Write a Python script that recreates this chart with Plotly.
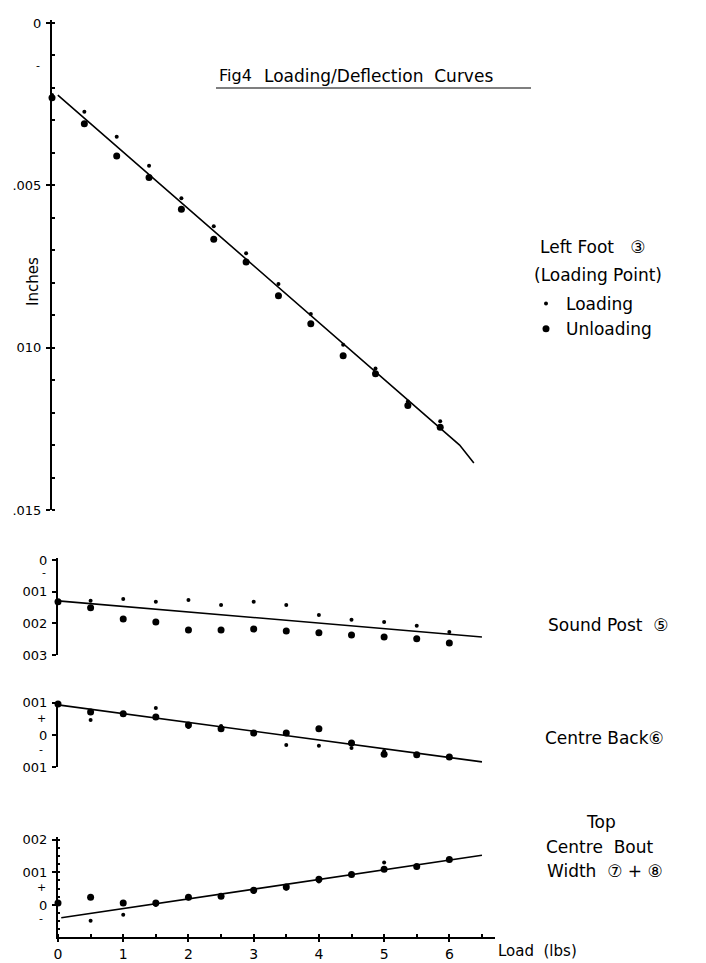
import plotly.graph_objects as go

W, H = 706, 963


def px_x(p):
    return p / W


def px_y(p):
    return 1 - p / H


# ---------------- data (inches, load in lbs) ----------------
loads = [0, 0.5, 1, 1.5, 2, 2.5, 3, 3.5, 4, 4.5, 5, 5.5, 6]

# Left Foot (3) - loading point
foot_loading = [0.00222, 0.00273, 0.00350, 0.00440, 0.00540, 0.00626, 0.00709,
                0.00804, 0.00896, 0.00991, 0.01064, 0.01166, 0.01227]
foot_unloading = [0.00230, 0.00310, 0.00410, 0.00476, 0.00574, 0.00666, 0.00736,
                  0.00840, 0.00926, 0.01025, 0.01080, 0.01178, 0.01245]
foot_fit_x = [0.09, 6.30, 6.52]
foot_fit_y = [0.00222, 0.01300, 0.01355]

# Sound Post (5)
post_loading = [0.00132, 0.00129, 0.00123, 0.00132, 0.00126, 0.00142, 0.00132,
                0.00142, 0.00174, 0.00189, 0.00196, 0.00208, 0.00227]
post_unloading = [0.00132, 0.00151, 0.00186, 0.00196, 0.00221, 0.00221, 0.00218,
                  0.00224, 0.00230, 0.00237, 0.00243, 0.00249, 0.00262]
post_fit_x = [0.0, 6.5]
post_fit_y = [0.00129, 0.00243]

# Centre Back (6)
back_loading = [0.00097, 0.00047, 0.00066, 0.00084, 0.00025, 0.00028, 0.00003,
                -0.00031, -0.00034, -0.00041, -0.00050, -0.00060, -0.00066]
back_unloading = [0.00097, 0.00072, 0.00066, 0.00056, 0.00031, 0.00019, 0.00006,
                  0.00006, 0.00019, -0.00025, -0.00060, -0.00062, -0.00069]
back_fit_x = [0.0, 6.5]
back_fit_y = [0.00094, -0.00084]

# Top Centre Bout Width (7) + (8)
bout_loading = [0.00006, -0.00048, -0.00030, 0.00000, 0.00020, 0.00025, 0.00040,
                0.00050, 0.00072, 0.00090, 0.00130, 0.00115, 0.00136]
bout_unloading = [0.00006, 0.00024, 0.00006, 0.00006, 0.00024, 0.00027, 0.00045,
                  0.00055, 0.00079, 0.00093, 0.00109, 0.00118, 0.00139]
bout_fit_x = [0.05, 6.5]
bout_fit_y = [-0.00039, 0.00152]

x_ticks = [0, 1, 2, 3, 4, 5, 6]
x_ticktext = ["0", "1", "2", "3", "4", "5", "6"]

FONT = "DejaVu Sans"
BLACK = "#000000"
SMALL = 4
BIG = 7

fig = go.Figure()


def add_panel(xa, ya, loading, unloading, fit_x, fit_y, legend=False):
    fig.add_trace(go.Scatter(x=fit_x, y=fit_y, mode="lines", xaxis=xa, yaxis=ya,
                             line=dict(color=BLACK, width=1.6), showlegend=False,
                             cliponaxis=False, hoverinfo="skip"))
    fig.add_trace(go.Scatter(x=loads, y=loading, mode="markers", xaxis=xa, yaxis=ya,
                             name="Loading", showlegend=legend, cliponaxis=False,
                             marker=dict(color=BLACK, size=SMALL)))
    fig.add_trace(go.Scatter(x=loads, y=unloading, mode="markers", xaxis=xa, yaxis=ya,
                             name="Unloading", showlegend=legend, cliponaxis=False,
                             marker=dict(color=BLACK, size=BIG)))


add_panel("x2", "y", foot_loading, foot_unloading, foot_fit_x, foot_fit_y, legend=True)
add_panel("x", "y2", post_loading, post_unloading, post_fit_x, post_fit_y)
add_panel("x", "y3", back_loading, back_unloading, back_fit_x, back_fit_y)
add_panel("x", "y4", bout_loading, bout_unloading, bout_fit_x, bout_fit_y)

tickfont = dict(family=FONT, size=13, color=BLACK)
common_y = dict(showgrid=False, zeroline=False, showline=True, linecolor=BLACK,
                linewidth=2, ticks="outside", ticklen=4, tickwidth=1.5,
                tickcolor=BLACK, tickfont=tickfont, automargin=False,
                ticklabelstandoff=2)

fig.update_layout(
    width=W, height=H,
    margin=dict(l=0, r=0, t=0, b=0),
    paper_bgcolor="white", plot_bgcolor="white",
    font=dict(family=FONT, color=BLACK),
    xaxis=dict(domain=[px_x(58), px_x(495)], range=[0, 6.7], anchor="y4",
               showgrid=False, zeroline=False, showline=True, linecolor=BLACK,
               linewidth=2, ticks="outside", ticklen=3, tickwidth=1.5,
               tickcolor=BLACK, tickvals=x_ticks, ticktext=x_ticktext,
               tickfont=dict(family=FONT, size=14, color=BLACK), automargin=False,
               ticklabelstandoff=0,
               minor=dict(dtick=0.5, ticks="inside", ticklen=3, tickcolor=BLACK)),
    xaxis2=dict(domain=[px_x(52), px_x(485.5)], range=[0, 6.7], anchor="y",
                visible=False),
    yaxis=dict(domain=[px_y(510), px_y(20)], range=[0.015, -0.0000924],
               anchor="x2", tickvals=[0, 0.005, 0.010, 0.015],
               ticktext=["0", ".005", "010", ".015"],
               minor=dict(dtick=0.001, tick0=0, ticks="inside", ticklen=3,
                          tickcolor=BLACK), **common_y),
    yaxis2=dict(domain=[px_y(655), px_y(558)], range=[0.0030, -0.000063],
                anchor="x", tickvals=[0, 0.001, 0.002, 0.003],
                ticktext=["0", "001", "002", "003"], **common_y),
    yaxis3=dict(domain=[px_y(767), px_y(701)], range=[-0.001, 0.00106],
                anchor="x", tickvals=[0.001, 0, -0.001],
                ticktext=["001", "0", "001"], **common_y),
    yaxis4=dict(domain=[px_y(937), px_y(837)], range=[-0.00098, 0.00208],
                anchor="x", tickvals=[0.002, 0.001, 0, -0.001],
                ticktext=["002", "001", "0", "001"],
                minor=dict(dtick=0.00025, ticks="inside", ticklen=2,
                           tickcolor=BLACK), **common_y),
    legend=dict(x=px_x(526), y=px_y(286), xanchor="left", yanchor="top",
                bgcolor="rgba(0,0,0,0)", borderwidth=0,
                font=dict(family=FONT, size=17, color=BLACK),
                tracegroupgap=0, itemsizing="trace"),
    showlegend=True,
)

ann_font = dict(family=FONT, size=17, color=BLACK)
small_font = dict(family=FONT, size=11, color=BLACK)
annotations = [
    # title
    dict(text="Fig4", x=px_x(217), y=px_y(76), xanchor="left", yanchor="middle",
         font=dict(family=FONT, size=16, color=BLACK)),
    dict(text="Loading/Deflection  Curves", x=px_x(262), y=px_y(76),
         xanchor="left", yanchor="middle",
         font=dict(family=FONT, size=17, color=BLACK)),
    # legend heading
    dict(text="Left Foot   \u2462", x=px_x(538), y=px_y(247), xanchor="left",
         yanchor="middle", font=ann_font),
    dict(text="(Loading Point)", x=px_x(532), y=px_y(275), xanchor="left",
         yanchor="middle", font=ann_font),
    # y-axis title
    dict(text="Inches", x=px_x(33), y=px_y(282), textangle=-90,
         xanchor="center", yanchor="middle", font=dict(family=FONT, size=15, color=BLACK)),
    # panel labels
    dict(text="Sound Post  \u2464", x=px_x(546), y=px_y(625), xanchor="left",
         yanchor="middle", font=ann_font),
    dict(text="Centre Back\u2465", x=px_x(543), y=px_y(738), xanchor="left",
         yanchor="middle", font=ann_font),
    dict(text="Top", x=px_x(601), y=px_y(822), xanchor="center",
         yanchor="middle", font=ann_font),
    dict(text="Centre  Bout", x=px_x(544), y=px_y(847), xanchor="left",
         yanchor="middle", font=ann_font),
    dict(text="Width  \u2466 + \u2467", x=px_x(545), y=px_y(871), xanchor="left",
         yanchor="middle", font=ann_font),
    dict(text="Load  (lbs)", x=px_x(496), y=px_y(951), xanchor="left",
         yanchor="middle", font=dict(family=FONT, size=15, color=BLACK)),
    # sign marks on the axes
    dict(text="-", x=px_x(38), y=0.0013, yref="y", xanchor="center",
         yanchor="middle", font=small_font),
    dict(text="-", x=px_x(44), y=0.00041, yref="y2", xanchor="center",
         yanchor="middle", font=small_font),
    dict(text="+", x=px_x(41), y=0.0005, yref="y3", xanchor="center",
         yanchor="middle", font=small_font),
    dict(text="-", x=px_x(41), y=-0.00044, yref="y3", xanchor="center",
         yanchor="middle", font=small_font),
    dict(text="+", x=px_x(41), y=0.00052, yref="y4", xanchor="center",
         yanchor="middle", font=small_font),
    dict(text="-", x=px_x(41), y=-0.00042, yref="y4", xanchor="center",
         yanchor="middle", font=small_font),
]
for a in annotations:
    a.setdefault("xref", "paper")
    a.setdefault("yref", "paper")
    a["showarrow"] = False
fig.update_layout(annotations=annotations)

# title underline
fig.add_shape(type="line", xref="paper", yref="paper",
              x0=px_x(216), x1=px_x(531), y0=px_y(88), y1=px_y(88),
              line=dict(color=BLACK, width=1.2))

# remove the default 8px body margin so the 706x963 figure fills the window
fig.write_html("out.html",
               config={"displayModeBar": False},
               post_script="document.body.style.margin='0';"
                           "document.body.style.overflow='hidden';")
